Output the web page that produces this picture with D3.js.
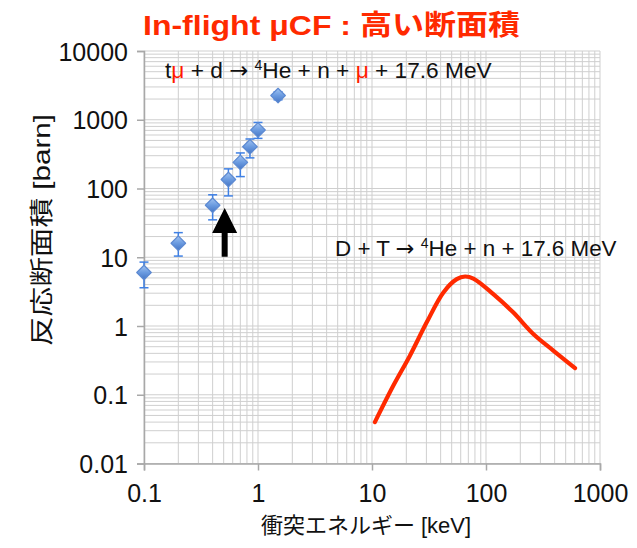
<!DOCTYPE html>
<html><head><meta charset="utf-8">
<script src="https://cdn.jsdelivr.net/npm/d3@7"></script>
<style>
html,body{margin:0;padding:0;background:#fff;}
svg text{font-family:"Liberation Sans", Arial, Helvetica, "Noto Sans CJK JP", sans-serif;}
.arw{font-family:"DejaVu Sans", sans-serif;}
</style></head><body>
<svg id="chart" width="637" height="548"></svg>
<script>
// In-flight muon-catalysed fusion, tμ + d (keV, barn)
const muEnergy  = [0.1, 0.2, 0.4, 0.55, 0.7, 0.85, 1.0, 1.5];
const muSigma   = [6.0, 16, 57, 135, 240, 405, 710, 2250];
const muErrLow  = [3.6, 10.4, 35, 78, 149, 279, 536, 1950];
const muErrHigh = [8.5, 22.8, 81, 193, 329, 525, 914, 2550];

// Bare D + T fusion cross section (keV, barn)
const dtEnergy = [10.6, 15.4, 21.5, 30.2, 42.3, 55.4, 65.5, 77.5, 116, 173, 260, 389, 604];
const dtSigma  = [0.040, 0.136, 0.37, 1.13, 3.08, 4.8, 5.25, 4.9, 2.91, 1.58, 0.766, 0.44, 0.244];

const xTicks = [0.1, 1, 10, 100, 1000];
const yTicks = [0.01, 0.1, 1, 10, 100, 1000, 10000];
const xTickLabels = ["0.1", "1", "10", "100", "1000"];
const yTickLabels = ["0.01", "0.1", "1", "10", "100", "1000", "10000"];

// arrow pointing at the low-energy muonic points (keV, barn)
const arrowAt = {x: 0.51, from: 10.2, to: 52};

const svg = d3.select("#chart");
const plot = {left: 144, right: 600, top: 51, bottom: 463.5};

const x = d3.scaleLog().domain([0.1, 1000]).range([plot.left, plot.right]);
const y = d3.scaleLog().domain([0.01, 10000]).range([plot.bottom, plot.top]);

// values 1..9 in every decade
function decadeValues(lo, hi) {
  const out = [];
  for (let e = Math.log10(lo); e < Math.log10(hi); e++) {
    for (let k = 1; k <= 9; k++) out.push(k * Math.pow(10, e));
  }
  out.push(hi);
  return out;
}

const grid = svg.append("g").attr("class", "grid");
grid.selectAll("line.gx").data(decadeValues(0.1, 1000)).join("line")
  .attr("x1", d => x(d)).attr("x2", d => x(d))
  .attr("y1", plot.top).attr("y2", plot.bottom)
  .attr("stroke", "#cfcfcf").attr("stroke-width", 1);
grid.selectAll("line.gy").data(decadeValues(0.01, 10000)).join("line")
  .attr("y1", d => y(d)).attr("y2", d => y(d))
  .attr("x1", plot.left).attr("x2", plot.right)
  .attr("stroke", "#cfcfcf").attr("stroke-width", 1);

// axes
const xAxis = d3.axisBottom(x).tickValues(xTicks).tickFormat((d, i) => xTickLabels[i]).tickSize(7).tickPadding(14);
const yAxis = d3.axisLeft(y).tickValues(yTicks).tickFormat((d, i) => yTickLabels[i]).tickSize(7).tickPadding(9);

const gx = svg.append("g").attr("transform", `translate(0,${plot.bottom})`).call(xAxis);
const gy = svg.append("g").attr("transform", `translate(${plot.left},0)`).call(yAxis);
[gx, gy].forEach(g => {
  g.select(".domain").attr("stroke", "#a8a8a8").attr("stroke-width", 1.5);
  g.selectAll(".tick line").attr("stroke", "#a8a8a8").attr("stroke-width", 1.5);
  g.selectAll(".tick text").attr("fill", "#111").style("font-size", "25px");
});
gx.selectAll(".tick text").attr("dy", "0.71em");
gy.selectAll(".tick text").attr("dy", "0.36em");

// D + T curve
const dtLine = d3.line()
  .x((d, i) => x(dtEnergy[i]))
  .y((d, i) => y(dtSigma[i]))
  .curve(d3.curveCatmullRom.alpha(0.5));
svg.append("path").datum(dtEnergy).attr("d", dtLine)
  .attr("fill", "none").attr("stroke", "#ff2a00").attr("stroke-width", 4.2)
  .attr("stroke-linecap", "round").attr("stroke-linejoin", "round");

// error bars
const errColor = "#3f80e4";
const eb = svg.append("g");
muEnergy.forEach((e, i) => {
  const cx = x(e);
  eb.append("line").attr("x1", cx).attr("x2", cx)
    .attr("y1", y(muErrLow[i])).attr("y2", y(muErrHigh[i]))
    .attr("stroke", errColor).attr("stroke-width", 1.5);
  [muErrLow[i], muErrHigh[i]].forEach(v => {
    eb.append("line").attr("x1", cx - 4.5).attr("x2", cx + 4.5)
      .attr("y1", y(v)).attr("y2", y(v))
      .attr("stroke", errColor).attr("stroke-width", 1.5);
  });
});

// diamond markers
const defs = svg.append("defs");
const grad = defs.append("linearGradient").attr("id", "markerFill")
  .attr("x1", 0).attr("y1", 0).attr("x2", 0).attr("y2", 1);
grad.append("stop").attr("offset", "0%").attr("stop-color", "#a2c4f2");
grad.append("stop").attr("offset", "50%").attr("stop-color", "#6b9be0");
grad.append("stop").attr("offset", "100%").attr("stop-color", "#4575c4");

const diamond = d3.symbol().type(d3.symbolDiamond2).size(135);
svg.append("g").selectAll("path").data(muEnergy).join("path")
  .attr("transform", (d, i) => `translate(${x(d)},${y(muSigma[i])})`)
  .attr("d", diamond)
  .attr("fill", "url(#markerFill)")
  .attr("stroke", "#5d8ad2").attr("stroke-width", 1.2).attr("stroke-linejoin", "round");

// black arrow
const ax = x(arrowAt.x), yBase = y(arrowAt.from), yTip = y(arrowAt.to);
const headLen = 25, headHalf = 12.5, shaftHalf = 3;
svg.append("path")
  .attr("d", `M${ax - shaftHalf},${yBase} L${ax - shaftHalf},${yTip + headLen} L${ax - headHalf},${yTip + headLen}
    L${ax},${yTip} L${ax + headHalf},${yTip + headLen} L${ax + shaftHalf},${yTip + headLen} L${ax + shaftHalf},${yBase} Z`)
  .attr("fill", "#000");

// title
svg.append("text").attr("x", 143).attr("y", 35)
  .attr("fill", "#ff2a00").style("font-size", "28.5px").style("font-weight", "bold")
  .attr("textLength", 377).attr("lengthAdjust", "spacingAndGlyphs")
  .text("In-flight μCF : 高い断面積");

// reaction labels
const eq1 = svg.append("text").attr("x", 165).attr("y", 78).style("font-size", "22.7px").attr("fill", "#111");
eq1.append("tspan").text("t");
eq1.append("tspan").attr("fill", "#ff1a00").text("μ");
eq1.append("tspan").text(" + d ");
eq1.append("tspan").attr("class", "arw").text("→");
eq1.append("tspan").text(" ");
eq1.append("tspan").attr("dy", -8).style("font-size", "14px").text("4");
eq1.append("tspan").attr("dy", 8).text("He + n + ");
eq1.append("tspan").attr("fill", "#ff1a00").text("μ");
eq1.append("tspan").text(" + 17.6 MeV");

const eq2 = svg.append("text").attr("x", 335).attr("y", 256).style("font-size", "22.4px").attr("fill", "#111");
eq2.append("tspan").text("D + T ");
eq2.append("tspan").attr("class", "arw").text("→");
eq2.append("tspan").text(" ");
eq2.append("tspan").attr("dy", -8).style("font-size", "14px").text("4");
eq2.append("tspan").attr("dy", 8).text("He + n + 17.6 MeV");

// axis titles
svg.append("text").attr("x", (plot.left + plot.right) / 2 - 6).attr("y", 533)
  .attr("text-anchor", "middle").style("font-size", "22px").attr("fill", "#111")
  .text("衝突エネルギー [keV]");
svg.append("text").attr("transform", "translate(50,230) rotate(-90)")
  .attr("text-anchor", "middle").style("font-size", "24px").attr("fill", "#111")
  .attr("textLength", 232).attr("lengthAdjust", "spacingAndGlyphs")
  .text("反応断面積 [barn]");
</script>
</body></html>
